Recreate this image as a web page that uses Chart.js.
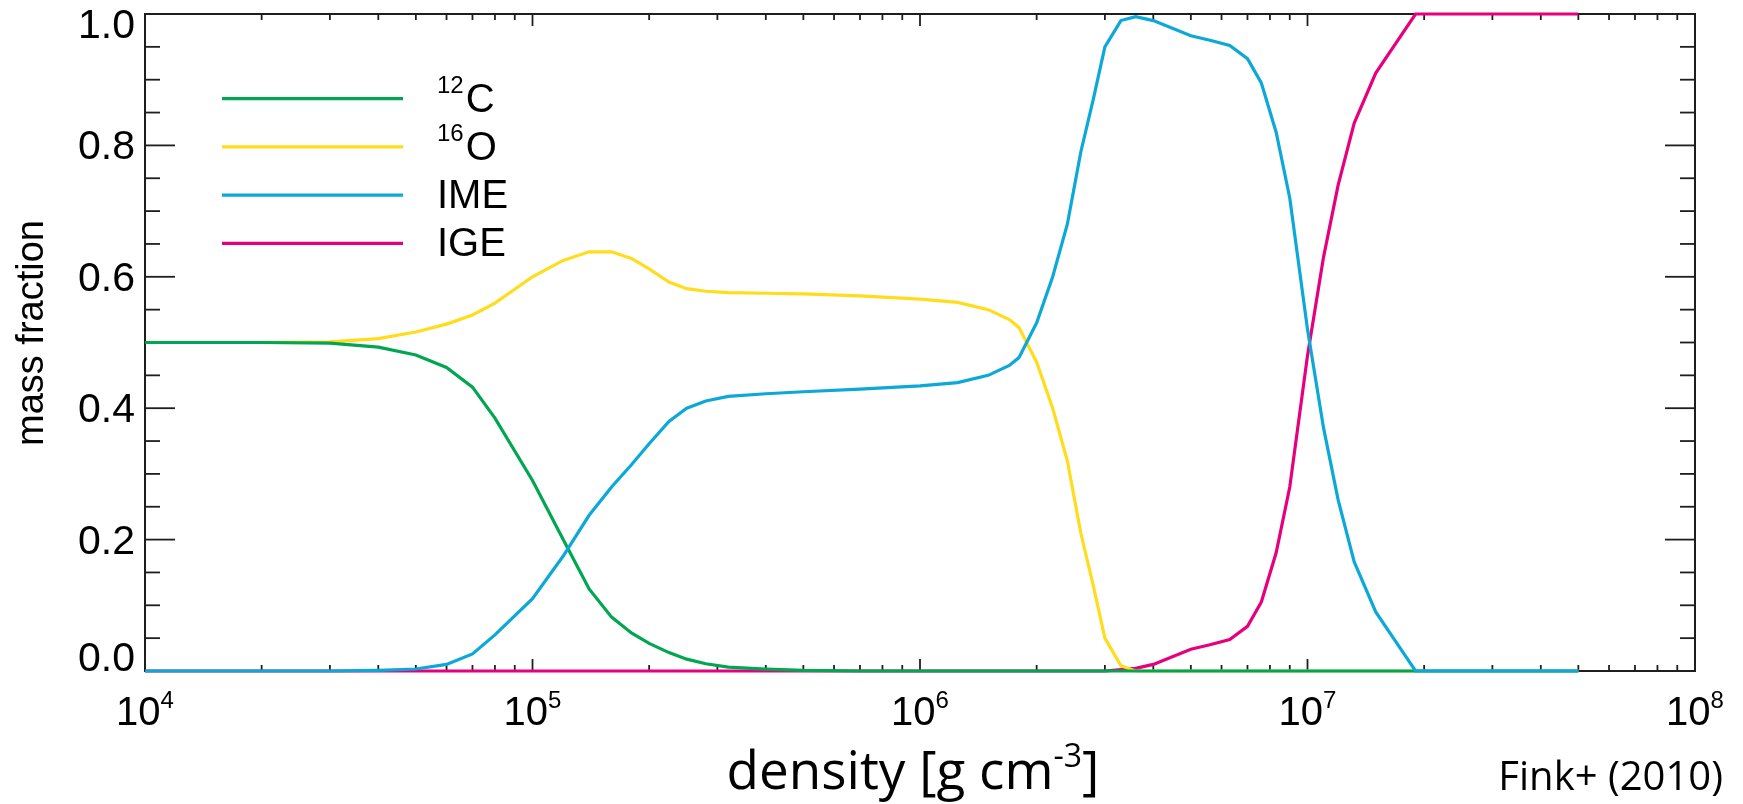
<!DOCTYPE html>
<html>
<head>
<meta charset="utf-8">
<script src="https://cdn.jsdelivr.net/npm/chart.js@4.4.1/dist/chart.umd.min.js"></script>
<style>
  body { margin: 0; background: #ffffff; }
</style>
</head>
<body>
<canvas id="burnChart" width="1743" height="804"></canvas>
<script>
// densities in g/cm^3 and the mass fraction of each species at that density
let density = [1.0e4, 2.0e4, 3.0e4, 4.0e4, 5.0e4, 6.0e4, 7.0e4, 8.0e4,
    1.0e5, 1.2e5, 1.4e5, 1.6e5, 1.8e5, 2.0e5, 2.25e5, 2.5e5, 2.8e5, 3.2e5,
    4.0e5, 5.0e5, 7.0e5, 1.0e6, 1.25e6, 1.5e6, 1.7e6, 1.8e6, 2.0e6, 2.2e6,
    2.4e6, 2.6e6, 2.8e6, 3.0e6, 3.3e6, 3.6e6, 4.0e6, 5.0e6, 5.6e6, 6.3e6,
    7.0e6, 7.6e6, 8.3e6, 9.0e6, 1.0e7, 1.1e7, 1.2e7, 1.32e7, 1.5e7, 1.9e7,
    3.2e7, 5.0e7];
let carbon = [0.5, 0.5, 0.499, 0.493, 0.481, 0.462, 0.432, 0.385,
    0.29, 0.20, 0.125, 0.082, 0.058, 0.042, 0.028, 0.018, 0.011, 0.006,
    0.003, 0.001, 0, 0, 0, 0, 0, 0, 0, 0,
    0, 0, 0, 0, 0, 0, 0, 0, 0, 0,
    0, 0, 0, 0, 0, 0, 0, 0, 0, 0,
    0, 0];
let oxygen = [0.5, 0.5, 0.501, 0.506, 0.516, 0.528, 0.542, 0.56,
    0.60, 0.625, 0.638, 0.638, 0.628, 0.612, 0.592, 0.582, 0.578, 0.576,
    0.575, 0.574, 0.571, 0.566, 0.561, 0.55, 0.535, 0.523, 0.47, 0.40,
    0.32, 0.21, 0.13, 0.05, 0.008, 0, 0, 0, 0, 0,
    0, 0, 0, 0, 0, 0, 0, 0, 0, 0,
    0, 0];
let ime = [0, 0, 0, 0.001, 0.003, 0.01, 0.026, 0.055,
    0.11, 0.175, 0.237, 0.28, 0.314, 0.346, 0.38, 0.40, 0.411, 0.418,
    0.422, 0.425, 0.429, 0.434, 0.439, 0.45, 0.465, 0.477, 0.53, 0.60,
    0.68, 0.79, 0.87, 0.95, 0.99, 0.996, 0.99, 0.967, 0.96, 0.952,
    0.932, 0.895, 0.82, 0.72, 0.52, 0.37, 0.26, 0.166, 0.09, 0,
    0, 0];
let ige = [0, 0, 0, 0, 0, 0, 0, 0,
    0, 0, 0, 0, 0, 0, 0, 0, 0, 0,
    0, 0, 0, 0, 0, 0, 0, 0, 0, 0,
    0, 0, 0, 0, 0.002, 0.004, 0.01, 0.033, 0.04, 0.048,
    0.068, 0.105, 0.18, 0.28, 0.48, 0.63, 0.74, 0.834, 0.91, 1,
    1, 1];

let massNumbers = ['12', '16', '', ''];
let species = ['C', 'O', 'IME', 'IGE'];
let colors = ['#00a651', '#ffdd1c', '#0ba8d8', '#e6007e'];
let yTicks = [0.0, 0.2, 0.4, 0.6, 0.8, 1.0];
let xDecades = [4, 5, 6, 7, 8];

const helv = '"Liberation Sans", Arial, sans-serif';

function points(values) {
    let pts = [];
    for (let i = 0; i < density.length; i++) {
        pts.push({x: density[i], y: values[i]});
    }
    return pts;
}

function seg(ctx, x1, y1, x2, y2) {
    ctx.beginPath();
    ctx.moveTo(x1, y1);
    ctx.lineTo(x2, y2);
    ctx.stroke();
}

// box, inward ticks, tick labels, titles and the legend
const axesPlugin = {
    id: 'idlAxes',
    beforeDatasetsDraw(chart) {
        const ctx = chart.ctx;
        const a = chart.chartArea;
        const xs = chart.scales.x, ys = chart.scales.y;
        ctx.save();
        ctx.strokeStyle = '#1e1e1e';
        ctx.lineWidth = 2;
        ctx.strokeRect(a.left, a.top, a.right - a.left, a.bottom - a.top);
        ctx.lineWidth = 1.8;
        for (let d = xDecades[0]; d < xDecades[xDecades.length - 1]; d++) {
            for (let m = 1; m < 10; m++) {
                let px = xs.getPixelForValue(m * Math.pow(10, d));
                let len = m == 1 ? 12 : 6;
                seg(ctx, px, a.bottom, px, a.bottom - len);
                seg(ctx, px, a.top, px, a.top + len);
            }
        }
        for (let i = 1; i < 20; i++) {
            let py = ys.getPixelForValue(i * 0.05);
            let len = i % 4 == 0 ? 30 : 15;
            seg(ctx, a.left, py, a.left + len, py);
            seg(ctx, a.right, py, a.right - len, py);
        }
        ctx.restore();
    },
    afterDraw(chart) {
        const ctx = chart.ctx;
        const a = chart.chartArea;
        const xs = chart.scales.x, ys = chart.scales.y;
        ctx.save();
        ctx.fillStyle = '#000000';

        // y tick labels, kept inside the box height
        ctx.font = '41px ' + helv;
        ctx.textAlign = 'right';
        ctx.textBaseline = 'alphabetic';
        yTicks.forEach(v => {
            let base = ys.getPixelForValue(v) + 14;
            base = Math.max(a.top + 24, Math.min(a.bottom, base));
            ctx.fillText(v.toFixed(1), a.left - 10, base);
        });

        // x tick labels 10^n
        ctx.textAlign = 'left';
        xDecades.forEach(d => {
            let px = xs.getPixelForValue(Math.pow(10, d));
            ctx.font = '40px ' + helv;
            let w1 = ctx.measureText('10').width;
            ctx.font = '24px ' + helv;
            let w2 = ctx.measureText(String(d)).width;
            let x0 = px - (w1 + w2) / 2;
            ctx.fillText(String(d), x0 + w1, 708);
            ctx.font = '40px ' + helv;
            ctx.fillText('10', x0, 725);
        });

        // y title
        ctx.save();
        ctx.translate(43, 333);
        ctx.rotate(-Math.PI / 2);
        ctx.textAlign = 'center';
        ctx.font = '38px ' + helv;
        ctx.fillText('mass fraction', 0, 0);
        ctx.restore();

        // x title with superscript unit
        ctx.font = '53px "Open Sans", sans-serif';
        let t1 = 'density [g cm', t3 = ']';
        let w1 = ctx.measureText(t1).width;
        let w3 = ctx.measureText(t3).width;
        ctx.font = '32px "Open Sans", sans-serif';
        let w2 = ctx.measureText('-3').width;
        let xStart = 913 - (w1 + w2 + w3) / 2;
        ctx.fillText('-3', xStart + w1, 767);
        ctx.font = '53px "Open Sans", sans-serif';
        ctx.fillText(t1, xStart, 789);
        ctx.fillText(t3, xStart + w1 + w2, 789);

        // reference note
        ctx.font = '40px "Open Sans", sans-serif';
        ctx.textAlign = 'right';
        ctx.fillText('Fink+ (2010)', 1723, 790);

        // legend
        ctx.textAlign = 'left';
        chart.data.datasets.forEach((ds, i) => {
            let ly = 98.7 + i * 48.2;
            ctx.strokeStyle = ds.borderColor;
            ctx.lineWidth = 3.2;
            seg(ctx, 222, ly, 403, ly);
            let tx = 437;
            if (massNumbers[i]) {
                ctx.font = '24px ' + helv;
                ctx.fillText(massNumbers[i], tx, ly - 5.5);
                tx += ctx.measureText(massNumbers[i]).width + 2;
            }
            ctx.font = '40px ' + helv;
            ctx.fillText(species[i], tx, ly + 13);
        });
        ctx.restore();
    }
};

const labels = ['\u00b9\u00b2C', '\u00b9\u2076O', 'IME', 'IGE'];
const series = [carbon, oxygen, ime, ige];
// IME on top, then C, O, IGE at the bottom
const drawOrder = [1, 2, 0, 3];

let datasets = [];
for (let i = 0; i < series.length; i++) {
    datasets.push({
        label: labels[i],
        data: points(series[i]),
        borderColor: colors[i],
        borderWidth: 3.2,
        pointRadius: 0,
        tension: 0,
        fill: false,
        clip: false,
        order: drawOrder[i]
    });
}

let ctx = document.getElementById('burnChart').getContext('2d');
let chart = new Chart(ctx, {
    type: 'line',
    data: { datasets: datasets },
    options: {
        responsive: false,
        animation: false,
        devicePixelRatio: 1,
        layout: { padding: { left: 145, right: 48, top: 14, bottom: 133 } },
        plugins: { legend: { display: false }, tooltip: { enabled: false } },
        scales: {
            x: { type: 'logarithmic', min: 1e4, max: 1e8, display: false },
            y: { type: 'linear', min: 0, max: 1, display: false }
        }
    },
    plugins: [axesPlugin]
});
</script>
</body>
</html>
